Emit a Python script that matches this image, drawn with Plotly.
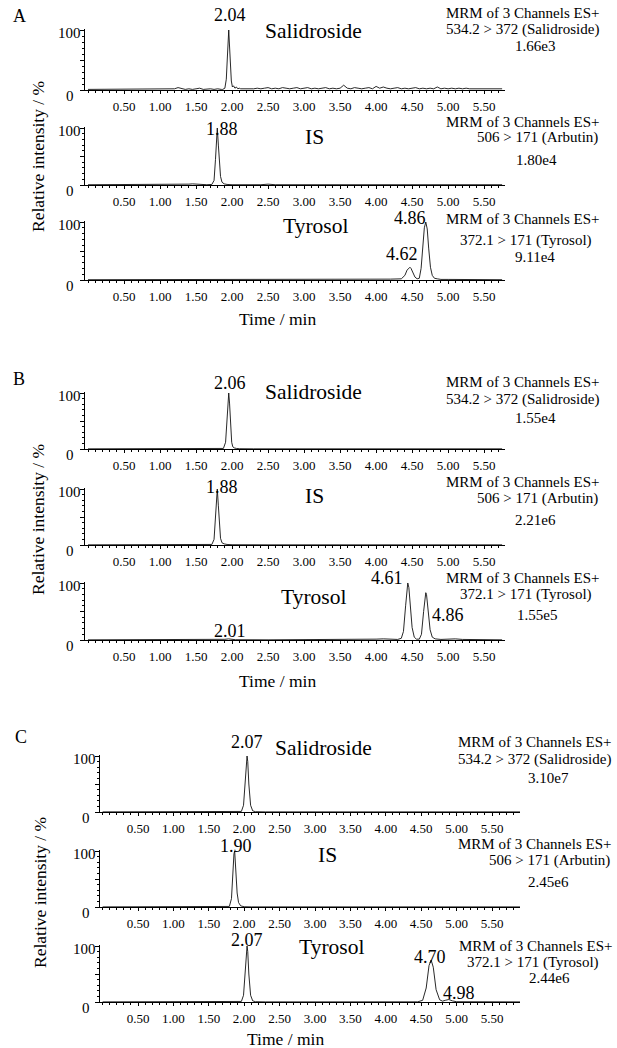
import plotly.graph_objects as go

W, H = 617, 1048
FONT = "Liberation Serif, Times New Roman, serif"

# ---------------- data ----------------
x_tick_vals = [0.5, 1.0, 1.5, 2.0, 2.5, 3.0, 3.5, 4.0, 4.5, 5.0, 5.5]
x_tick_text = ["0.50", "1.00", "1.50", "2.00", "2.50", "3.00", "3.50", "4.00", "4.50", "5.00", "5.50"]

# A1 baseline noise on a 0.05-min grid (0.00 ... 5.75)
a1_noise = [1, 1, 2, 1, 1, 2, 1, 1, 2, 1, 1, 2, 1, 2, 1, 1, 2, 1, 2, 1,
            2, 1, 2, 1, 2, 4, 2, 1, 2, 1, 2, 3, 1, 2, 2, 1, 2, 1, 1, 1,
            1, 2, 3, 2, 2, 1, 2, 3, 2, 3, 4, 2, 3, 2, 4, 3, 2, 3, 4, 2,
            3, 4, 2, 3, 2, 3, 4, 2, 3, 2, 3, 8, 3, 2, 4, 3, 2, 3, 4, 2,
            6, 3, 5, 3, 2, 3, 4, 2, 3, 2, 3, 4, 2, 3, 2, 3, 2, 5, 2, 3,
            2, 3, 2, 3, 2, 3, 2, 2, 3, 2, 3, 2, 2, 3, 2, 2]
a1_peak = [(1.87, 1), (1.90, 3), (1.92, 18), (1.935, 55), (1.945, 85), (1.954, 100), (1.962, 80),
           (1.975, 45), (1.99, 15), (2.005, 5), (2.02, 7), (2.04, 3), (2.06, 5), (2.08, 2),
           (2.10, 3), (2.12, 2)]

a2 = [(0, 0.5), (0.5, 0.5), (1.0, 0.5), (1.3, 0.5), (1.4, 1.5), (1.45, 2), (1.5, 1.5), (1.55, 1),
      (1.65, 0.5), (1.72, 1), (1.75, 8), (1.77, 45), (1.785, 90), (1.795, 100), (1.81, 70),
      (1.825, 35), (1.84, 15), (1.86, 5), (1.89, 2), (1.93, 1), (2.0, 0.5), (2.4, 0.5), (2.5, 1.5),
      (2.6, 0.5), (3.0, 0.5), (3.05, 1.5), (3.1, 0.5), (3.5, 0.5), (4.0, 0.5), (4.55, 0.5),
      (4.62, 1.5), (4.7, 0.5), (5.2, 0.5), (5.75, 0.5)]

a3 = [(0, 0.5), (0.5, 0.5), (1.0, 0.5), (1.3, 1), (1.5, 0.5), (1.8, 1), (2.0, 1.5), (2.2, 1),
      (2.5, 1), (3.0, 1), (3.5, 0.5), (4.0, 1), (4.2, 1.5), (4.35, 2), (4.40, 8), (4.43, 17),
      (4.455, 21), (4.47, 22), (4.485, 20), (4.51, 13), (4.54, 5), (4.57, 2), (4.60, 3),
      (4.625, 20), (4.65, 60), (4.67, 90), (4.69, 100), (4.71, 88), (4.73, 55), (4.755, 22),
      (4.78, 8), (4.81, 3), (4.85, 2), (4.9, 1), (5.0, 1), (5.3, 0.5), (5.75, 0.5)]

b1 = [(0, 0.3), (0.5, 0.3), (1.0, 0.3), (1.2, 0.3), (1.25, 1), (1.3, 0.3), (1.6, 0.3), (1.7, 0.8),
      (1.75, 0.3), (1.8, 0.3), (1.88, 1), (1.91, 12), (1.93, 55), (1.945, 90), (1.954, 100),
      (1.965, 82), (1.98, 40), (1.995, 12), (2.01, 4), (2.03, 2), (2.06, 1), (2.1, 0.5),
      (2.3, 0.3), (2.5, 0.3), (2.6, 0.8), (2.9, 0.3), (2.95, 0.8), (3.0, 0.3), (3.5, 0.3),
      (4.0, 0.3), (4.5, 0.3), (5.0, 0.3), (5.75, 0.3)]

b2 = [(0, 0.3), (0.5, 0.3), (1.0, 0.3), (1.5, 0.3), (1.65, 0.3), (1.72, 1), (1.75, 10), (1.77, 50),
      (1.785, 90), (1.795, 100), (1.81, 70), (1.825, 30), (1.84, 12), (1.86, 4), (1.89, 2),
      (1.93, 1), (2.0, 0.5), (2.5, 0.3), (3.0, 0.3), (3.5, 0.3), (4.0, 0.3), (4.5, 0.3),
      (5.0, 0.3), (5.2, 0.8), (5.75, 0.3)]

b3 = [(0, 0.3), (0.5, 0.3), (1.0, 0.3), (1.2, 0.8), (1.5, 0.3), (1.85, 0.5), (1.9, 1.2), (1.95, 2),
      (2.0, 1.2), (2.05, 0.5), (2.5, 0.3), (3.0, 0.3), (3.5, 0.3), (3.9, 0.5), (4.0, 1.5),
      (4.1, 2), (4.2, 1), (4.3, 1), (4.35, 3), (4.38, 15), (4.41, 60), (4.43, 90), (4.44, 100),
      (4.455, 92), (4.47, 65), (4.5, 22), (4.53, 5), (4.56, 1.5), (4.6, 1.5), (4.63, 10),
      (4.66, 50), (4.68, 78), (4.69, 83), (4.70, 80), (4.72, 55), (4.75, 18), (4.78, 5),
      (4.82, 2), (4.9, 1), (5.0, 1.5), (5.1, 2), (5.2, 1), (5.4, 0.5), (5.75, 0.3)]

c1 = [(0, 0.2), (0.5, 0.2), (1.0, 0.2), (1.5, 0.2), (1.9, 0.2), (1.96, 1), (1.99, 12), (2.015, 60),
      (2.03, 92), (2.04, 100), (2.05, 90), (2.065, 50), (2.09, 12), (2.12, 2), (2.16, 0.5),
      (2.3, 0.2), (3.0, 0.2), (4.0, 0.2), (5.0, 0.2), (5.9, 0.2)]

c2 = [(0, 0.2), (0.5, 0.2), (1.0, 0.2), (1.5, 0.2), (1.75, 0.2), (1.79, 1), (1.82, 15), (1.84, 65),
      (1.855, 95), (1.865, 100), (1.88, 70), (1.9, 25), (1.92, 8), (1.95, 2), (2.0, 0.5),
      (2.1, 0.2), (3.0, 0.2), (4.0, 0.2), (5.0, 0.2), (5.9, 0.2)]

c3 = [(0, 0.2), (0.5, 0.2), (1.0, 0.2), (1.5, 0.2), (1.9, 0.2), (1.96, 1), (1.99, 12), (2.015, 60),
      (2.03, 92), (2.04, 100), (2.05, 90), (2.065, 50), (2.09, 12), (2.12, 2), (2.16, 0.5),
      (2.3, 0.2), (3.0, 0.2), (4.0, 0.2), (4.45, 0.3), (4.52, 3), (4.57, 25), (4.61, 65),
      (4.64, 75), (4.67, 62), (4.71, 22), (4.76, 4), (4.8, 1.5), (4.84, 3), (4.89, 4.5),
      (4.94, 2), (5.0, 0.5), (5.9, 0.2)]

compound_names = ["Salidroside", "IS", "Tyrosol"] * 3
compound_pos = [(313, 31), (314, 137), (315, 226),
                (313, 392), (314, 496), (313, 597),
                (324, 748), (327, 855), (331, 947)]

peak_labels = ["2.04", "1.88", "4.86", "4.62", "2.06", "1.88", "4.61", "4.86", "2.01",
               "2.07", "1.90", "2.07", "4.70", "4.98"]
peak_label_pos = [(230, 15), (222, 129), (410, 218), (402, 254), (230, 383), (222, 487),
                  (387, 578), (448, 615), (230, 631), (247, 742), (236, 846), (247, 940),
                  (430, 957), (459, 993)]

mrm_line1 = "MRM of 3 Channels ES+"
mrm_line2 = ["534.2 &gt; 372 (Salidroside)", "506 &gt; 171 (Arbutin)", "372.1 &gt; 171 (Tyrosol)"] * 3
mrm_scale = ["1.66e3", "1.80e4", "9.11e4", "1.55e4", "2.21e6", "1.55e5", "3.10e7", "2.45e6", "2.44e6"]
mrm_pos = [  # (line1 x,y), (line2 x,y), (line3 x,y)
    ((522, 13), (522, 30), (535, 46)),
    ((522, 122), (537, 138), (536, 160)),
    ((522, 219), (526, 241), (535, 257)),
    ((522, 382), (522, 399), (535, 418)),
    ((522, 482), (537, 498), (535, 520)),
    ((522, 578), (526, 594), (537, 615)),
    ((534, 742), (534, 759), (548, 778)),
    ((534, 844), (549, 860), (548, 882)),
    ((535, 946), (533, 962), (549, 978)),
]

panel_letters = ["A", "B", "C"]
panel_letter_pos = [(19, 16), (19, 379), (21, 737)]
ytitle_pos = [(38, 157), (38, 520), (40, 893)]
xtitle_pos = [(277, 319), (277, 681), (285, 1039)]

# subplot geometry (pixels): (top of 100 %, zero line)
rows_px = [(30, 90), (128, 185), (222, 280),
           (393, 449), (489, 545), (583, 640),
           (756, 812), (851, 907), (946, 1002)]
panel_x_px = [(85, 505), (85, 505), (100, 520)]
panel_x_range = [(-0.042, 5.79), (-0.042, 5.79), (-0.037, 5.895)]
ylab_px = [(83, 70), (83, 70), (98, 86)]  # "100" right edge, "0" centre

traces_data = [None, a2, a3, b1, b2, b3, c1, c2, c3]

# ---------------- figure ----------------
def px(x):
    return x / W


def py(y):
    return 1 - y / H


fig = go.Figure()
layout = dict(width=W, height=H, margin=dict(l=0, r=0, t=0, b=0), autosize=False,
              paper_bgcolor="white", plot_bgcolor="white", showlegend=False,
              font=dict(family=FONT, color="black"))

# A1 combined trace
a1_t, a1_y = [], []
lo, hi = a1_peak[0][0], a1_peak[-1][0]
for i, v in enumerate(a1_noise):
    t = round(0.05 * i, 2)
    if lo <= t <= hi:
        continue
    a1_t.append(t)
    a1_y.append(v)
for t, v in a1_peak:
    a1_t.append(t)
    a1_y.append(v)
order = sorted(range(len(a1_t)), key=lambda k: a1_t[k])
a1_t = [a1_t[k] for k in order]
a1_y = [a1_y[k] for k in order]

annotations = []


def ann(text, x, y, size, xanchor="center", angle=0):
    annotations.append(dict(text=text, x=px(x), y=py(y), xref="paper", yref="paper",
                            xanchor=xanchor, yanchor="middle", showarrow=False,
                            textangle=angle, font=dict(family=FONT, size=size, color="black")))


for i in range(9):
    p = i // 3
    n = i + 1
    xs = "x" if n == 1 else f"x{n}"
    ys = "y" if n == 1 else f"y{n}"
    top, zero = rows_px[i]
    x0, x1 = panel_x_px[p]
    ytop = zero - (zero - top) * 1.02
    layout["xaxis" if n == 1 else f"xaxis{n}"] = dict(
        domain=[px(x0), px(x1)], range=list(panel_x_range[p]), anchor=ys,
        showline=True, linecolor="black", linewidth=1, mirror=False,
        showgrid=False, zeroline=False, ticks="outside", ticklen=3, tickcolor="black",
        tickmode="array", tickvals=x_tick_vals, ticktext=x_tick_text,
        tickfont=dict(family=FONT, size=13, color="black"), ticklabelstandoff=1,
        minor=dict(tickmode="linear", tick0=0, dtick=0.1, ticklen=2, ticks="outside",
                   tickcolor="black", showgrid=False),
    )
    layout["yaxis" if n == 1 else f"yaxis{n}"] = dict(
        domain=[py(zero), py(ytop)], range=[0, 102], anchor=xs,
        showline=True, linecolor="black", linewidth=1, showgrid=False, zeroline=False,
        ticks="outside", ticklen=4, tickcolor="black", tickmode="array",
        tickvals=[0, 50, 100], showticklabels=False,
        minor=dict(tickmode="linear", tick0=0, dtick=10, ticklen=2, ticks="outside",
                   tickcolor="black", showgrid=False),
    )
    if i == 0:
        tt, yy = a1_t, a1_y
    else:
        tt = [q[0] for q in traces_data[i]]
        yy = [q[1] for q in traces_data[i]]
    fig.add_trace(go.Scatter(x=tt, y=yy, mode="lines", xaxis=xs, yaxis=ys,
                             line=dict(color="#111111", width=0.9), hoverinfo="skip"))
    # y tick labels
    rx, cx = ylab_px[p]
    ann("100", rx, top + 3, 15, xanchor="right")
    ann("0", cx, zero + 6, 15)
    # compound name
    ann(compound_names[i], compound_pos[i][0], compound_pos[i][1], 21.5)
    # MRM block
    (l1, l2, l3) = mrm_pos[i]
    ann(mrm_line1, l1[0], l1[1], 15)
    ann(mrm_line2[i], l2[0], l2[1], 15)
    ann(mrm_scale[i], l3[0], l3[1], 15)

for lab, (x, y) in zip(peak_labels, peak_label_pos):
    ann(lab, x, y, 18)

for k in range(3):
    ann(panel_letters[k], panel_letter_pos[k][0], panel_letter_pos[k][1], 18)
    ann("Relative intensity / %", ytitle_pos[k][0], ytitle_pos[k][1], 17.5, angle=-90)
    ann("Time / min", xtitle_pos[k][0], xtitle_pos[k][1], 17.5)

layout["annotations"] = annotations
fig.update_layout(**layout)
fig.write_html("out.html", config={"displayModeBar": False},
               post_script="document.body.style.margin='0';document.body.style.padding='0';"
                           "document.body.style.overflow='hidden';")
